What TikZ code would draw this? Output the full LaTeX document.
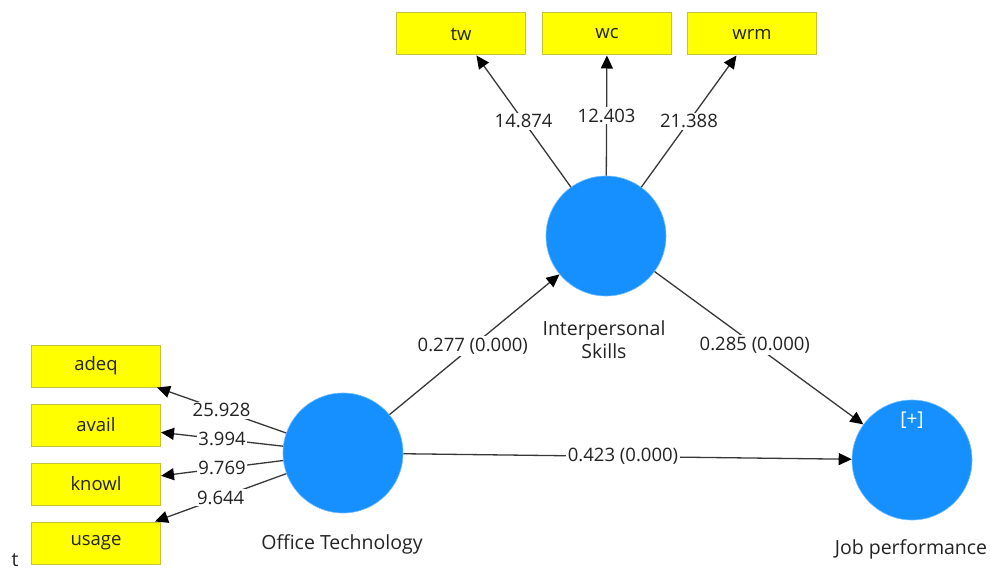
\documentclass[tikz,border=0pt]{standalone}
\usepackage{fontspec}
\setmainfont{Open Sans}
\usetikzlibrary{arrows.meta}
\definecolor{boxfill}{RGB}{255,255,0}
\definecolor{boxline}{RGB}{196,196,60}
\definecolor{lvblue}{RGB}{22,144,255}
\definecolor{edgec}{RGB}{55,55,55}
\definecolor{txt}{RGB}{34,34,34}
\tikzset{
  x=1pt,y=-1pt,
  ind/.style={draw=boxline,fill=boxfill,line width=1pt,minimum width=129pt,minimum height=42pt,inner sep=0pt,font=\fontsize{18.5}{22}\selectfont,text=txt},
  lv/.style={circle,fill=lvblue,draw=lvblue!60!white,line width=0.6pt,minimum size=120pt,inner sep=0pt},
  arr/.style={draw=edgec,line width=1.3pt,-{Triangle[length=13pt,width=12pt,color=black]}},
  lbl/.style={fill=white,inner sep=1.5pt,font=\fontsize{18.5}{22}\selectfont,text=txt},
  lvcaption/.style={font=\fontsize{19.5}{23}\selectfont,text=txt,align=center}
}
\begin{document}
\begin{tikzpicture}
\useasboundingbox (0,0) rectangle (990,569);
% indicators
\node[ind] (tw) at (461,34) {tw};
\node[ind] (wc) at (607,34) {wc};
\node[ind] (wrm) at (752,34) {wrm};
\node[ind] (adeq) at (96,366) {adeq};
\node[ind] (avail) at (96,425) {avail};
\node[ind] (knowl) at (96,484) {knowl};
\node[ind] (usage) at (96,543) {usage};
% latent variables
\node[lv] (is) at (606,236) {};
\node[lv] (ot) at (343,453) {};
\node[lv] (jp) at (912,460) {};
\node[font=\fontsize{19}{21}\selectfont,text=white] (plus) at (912,420) {[+]};
\node[lvcaption] (iscap) at (604,340) {Interpersonal\\Skills};
\node[lvcaption] (otcap) at (342,544) {Office Technology};
\node[lvcaption] (jpcap) at (911,549) {Job performance};
\node[lvcaption,anchor=base,inner sep=0pt] (tt) at (15,566) {t};
% outer loadings
\draw[arr] (is) -- node[lbl,pos=0.5] {14.874} (tw);
\draw[arr] (is) -- node[lbl,pos=0.5] {12.403} (wc);
\draw[arr] (is) -- node[lbl,pos=0.5] {21.388} (wrm);
\draw[arr] (ot) -- node[lbl,pos=0.5] {25.928} (adeq);
\draw[arr] (ot) -- node[lbl,pos=0.5] {3.994} (avail);
\draw[arr] (ot) -- node[lbl,pos=0.5] {9.769} (knowl);
\draw[arr] (ot) -- node[lbl,pos=0.5] {9.644} (usage);
% paths
\draw[arr] (ot) -- node[lbl,pos=0.49] {0.277 (0.000)} (is);
\draw[arr] (is) -- node[lbl,pos=0.48] {0.285 (0.000)} (jp);
\draw[arr] (ot) -- node[lbl,pos=0.49] {0.423 (0.000)} (jp);
\end{tikzpicture}
\end{document}
